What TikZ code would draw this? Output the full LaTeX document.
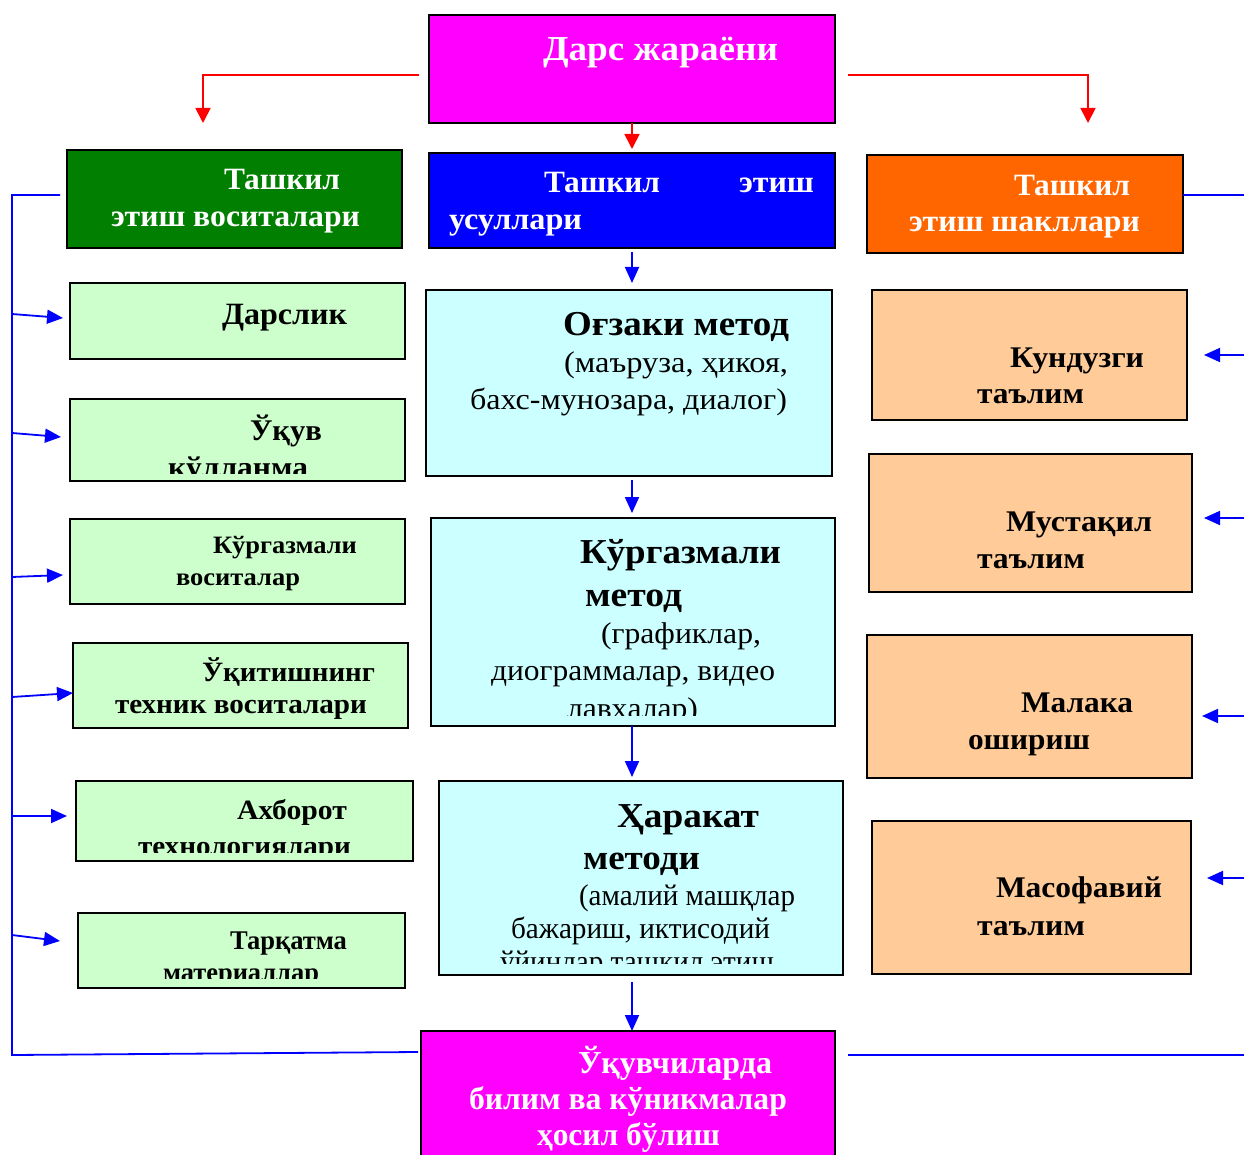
\documentclass[tikz,border=0pt]{standalone}
\usepackage{fontspec}
\setmainfont{Liberation Serif}
\usetikzlibrary{arrows.meta}
\definecolor{cmag}{HTML}{FF00FF}
\definecolor{cdgreen}{HTML}{007F00}
\definecolor{cblue}{HTML}{0000FF}
\definecolor{corange}{HTML}{FF6600}
\definecolor{clgreen}{HTML}{CCFFCC}
\definecolor{clcyan}{HTML}{CCFFFF}
\definecolor{cpeach}{HTML}{FFCC99}
\definecolor{cred}{HTML}{FF0000}
\newcommand\fw[3]{\fontsize{#2}{#2}\selectfont\resizebox{#1pt}{\height}{#3}}
\newcommand\boxnode[6]{\node[bx, fill=#6, minimum width={#4-#2}, minimum height={#5-#3}] (#1) at ({(#2+#4)/2},{(#3+#5)/2}) {};}
\tikzset{
  bx/.style={draw=black, line width=2pt, inner sep=0pt, outer sep=0pt, rectangle},
  lb/.style={anchor=base west, inner sep=0pt, outer sep=0pt},
  bline/.style={draw=cblue, line width=1.8pt},
  barr/.style={draw=cblue, line width=1.8pt, -{Triangle[length=16pt,width=14pt]}},
  rline/.style={draw=cred, line width=1.7pt},
  rarr/.style={draw=cred, line width=1.7pt, -{Triangle[length=15pt,width=15pt]}},
}
\begin{document}
\begin{tikzpicture}[x=1pt,y=-1pt]
\useasboundingbox (0,0) rectangle (1244,1155);
% boxes
\boxnode{top}{429}{15}{835}{123}{cmag}
\boxnode{hg}{67}{150}{402}{248}{cdgreen}
\boxnode{hb}{429}{153}{835}{248}{cblue}
\boxnode{ho}{867}{155}{1183}{253}{corange}
\boxnode{g1}{70}{283}{405}{359}{clgreen}
\boxnode{g2}{70}{399}{405}{481}{clgreen}
\boxnode{g3}{70}{519}{405}{604}{clgreen}
\boxnode{g4}{73}{643}{408}{728}{clgreen}
\boxnode{g5}{76}{781}{413}{861}{clgreen}
\boxnode{g6}{78}{913}{405}{988}{clgreen}
\boxnode{m1}{426}{290}{832}{476}{clcyan}
\boxnode{m2}{431}{518}{835}{726}{clcyan}
\boxnode{m3}{439}{781}{843}{975}{clcyan}
\boxnode{r1}{872}{290}{1187}{420}{cpeach}
\boxnode{r2}{869}{454}{1192}{592}{cpeach}
\boxnode{r3}{867}{635}{1192}{778}{cpeach}
\boxnode{r4}{872}{821}{1191}{974}{cpeach}
\boxnode{bot}{421}{1031}{835}{1175}{cmag}

% texts: header
\node[lb,text=white] (t0) at (543,61) {\bfseries\fw{235}{35}{Дарс жараёни}};
\node[lb,text=white] (tg1) at (224,190) {\bfseries\fw{116}{31}{Ташкил}};
\node[lb,text=white] (tg2) at (111,227) {\bfseries\fw{249}{31}{этиш воситалари}};
\node[lb,text=white] (tb1) at (544,193) {\bfseries\fw{116}{31}{Ташкил}};
\node[lb,text=white] (tb2) at (739,193) {\bfseries\fw{75}{31}{этиш}};
\node[lb,text=white] (tb3) at (449,230) {\bfseries\fw{133}{31}{усуллари}};
\node[lb,text=white] (to1) at (1014,196) {\bfseries\fw{116}{31}{Ташкил}};
\node[lb,text=white] (to2) at (909,232) {\bfseries\fw{231}{31}{этиш шакллари}};
% left column
\node[lb] (tl1) at (222,325) {\bfseries\fw{125}{31}{Дарслик}};
\node[lb] (tl2) at (250,440) {\bfseries\fw{72}{30}{Ўқув}};
\begin{scope}\clip (71,400) rectangle (404,473);
\node[lb] (tl3) at (168,477) {\bfseries\fw{140}{30}{кўлланма}};
\end{scope}
\node[lb] (tl4) at (213,553) {\bfseries\fw{144}{25}{Кўргазмали}};
\node[lb] (tl5) at (176,585) {\bfseries\fw{124}{25}{воситалар}};
\node[lb] (tl6) at (202,681) {\bfseries\fw{173}{28}{Ўқитишнинг}};
\node[lb] (tl7) at (115,713) {\bfseries\fw{252}{28}{техник воситалари}};
\node[lb] (tl8) at (237,819) {\bfseries\fw{110}{28}{Ахборот}};
\begin{scope}\clip (77,782) rectangle (412,852);
\node[lb] (tl9) at (138,855) {\bfseries\fw{213}{28}{технологиялари}};
\end{scope}
\node[lb] (tl10) at (230,949) {\bfseries\fw{117}{27}{Тарқатма}};
\begin{scope}\clip (79,914) rectangle (404,978);
\node[lb] (tl11) at (163,981) {\bfseries\fw{156}{27}{материаллар}};
\end{scope}
% middle column
\node[lb] (tm1) at (563,335) {\bfseries\fw{226}{35}{Оғзаки метод}};
\node[lb] (tm2) at (564,372) {\fw{224}{30}{(маъруза, ҳикоя,}};
\node[lb] (tm3) at (470,409) {\fw{317}{30}{бахс-мунозара, диалог)}};
\node[lb] (tm4) at (580,563) {\bfseries\fw{201}{35}{Кўргазмали}};
\node[lb] (tm5) at (585,606) {\bfseries\fw{97}{35}{метод}};
\node[lb] (tm6) at (601,643) {\fw{160}{30}{(графиклар,}};
\node[lb] (tm7) at (491,680) {\fw{284}{30}{диограммалар, видео}};
\begin{scope}\clip (432,519) rectangle (834,715);
\node[lb] (tm8) at (567,718) {\fw{131}{30}{лавҳалар)}};
\end{scope}
\node[lb] (tm9) at (617,827) {\bfseries\fw{142}{35}{Ҳаракат}};
\node[lb] (tm10) at (583,869) {\bfseries\fw{117}{35}{методи}};
\node[lb] (tm11) at (579,905) {\fw{216}{30}{(амалий машқлар}};
\node[lb] (tm12) at (511,938) {\fw{259}{30}{бажариш, иктисодий}};
\begin{scope}\clip (440,782) rectangle (842,963);
\node[lb] (tm13) at (500,971) {\fw{274}{30}{ўйинлар ташкил этиш}};
\end{scope}
% right column
\node[lb] (tr1) at (1010,367) {\bfseries\fw{134}{30}{Кундузги}};
\node[lb] (tr2) at (977,403) {\bfseries\fw{107}{30}{таълим}};
\node[lb] (tr3) at (1006,531) {\bfseries\fw{146}{30}{Мустақил}};
\node[lb] (tr4) at (977,568) {\bfseries\fw{108}{30}{таълим}};
\node[lb] (tr5) at (1021,712) {\bfseries\fw{112}{30}{Малака}};
\node[lb] (tr6) at (968,749) {\bfseries\fw{122}{30}{ошириш}};
\node[lb] (tr7) at (996,897) {\bfseries\fw{166}{30}{Масофавий}};
\node[lb] (tr8) at (977,935) {\bfseries\fw{108}{30}{таълим}};
% bottom
\node[lb,text=white] (tx1) at (578,1073) {\bfseries\fw{194}{32}{Ўқувчиларда}};
\node[lb,text=white] (tx2) at (469,1109) {\bfseries\fw{318}{32}{билим ва кўникмалар}};
\node[lb,text=white] (tx3) at (537,1145) {\bfseries\fw{183}{32}{ҳосил бўлиш}};

% red connectors
\coordinate (RL0) at (419,75); \coordinate (RL1) at (203,75); \coordinate (RL2) at (203,123);
\coordinate (RR0) at (848,75); \coordinate (RR1) at (1088,75); \coordinate (RR2) at (1088,123);
\draw[rarr] (RL0) -- (RL1) -- (RL2);
\draw[rarr] (RR0) -- (RR1) -- (RR2);
\draw[rarr] (top.south) -- ([yshift=4pt]hb.north);
% middle blue arrows
\draw[barr] ([yshift=-4pt]hb.south) -- ([yshift=7pt]hb.south |- m1.north);
\draw[barr] ([yshift=-4pt]m1.south -| hb.south) -- ([yshift=5pt]hb.south |- m2.north);
\draw[barr] (m2.south -| hb.south) -- ([yshift=4pt]hb.south |- m3.north);
\draw[barr] ([yshift=-7pt]m3.south -| hb.south) -- (hb.south |- bot.north);
% left trunk
\coordinate (LT) at (60,195); \coordinate (LTc) at (12,195);
\coordinate (LB) at (12,1055); \coordinate (LBe) at (418,1052);
\draw[bline] (LT) -- (LTc) -- (LB) -- (LBe);
\coordinate (a1) at (12,314); \coordinate (b1) at (63,318);
\coordinate (a2) at (12,433); \coordinate (b2) at (61,437);
\coordinate (a3) at (12,577); \coordinate (b3) at (63,575);
\coordinate (a4) at (12,697); \coordinate (b4) at (73,693);
\coordinate (a5) at (12,816); \coordinate (b5) at (67,816);
\coordinate (a6) at (12,935); \coordinate (b6) at (60,941);
\foreach \i in {1,...,6} {\draw[barr] (a\i) -- (b\i);}
% right
\coordinate (RT0) at (1244,195);
\draw[bline] (ho.east |- RT0) -- (RT0);
\coordinate (RB0) at (848,1055); \coordinate (RB1) at (1244,1055);
\draw[bline] (RB0) -- (RB1);
\coordinate (c1) at (1244,355); \coordinate (d1) at (1204,355);
\coordinate (c2) at (1244,518); \coordinate (d2) at (1204,518);
\coordinate (c3) at (1244,716); \coordinate (d3) at (1202,716);
\coordinate (c4) at (1244,878); \coordinate (d4) at (1207,878);
\foreach \i in {1,...,4} {\draw[barr] (c\i) -- (d\i);}
\end{tikzpicture}
\end{document}
